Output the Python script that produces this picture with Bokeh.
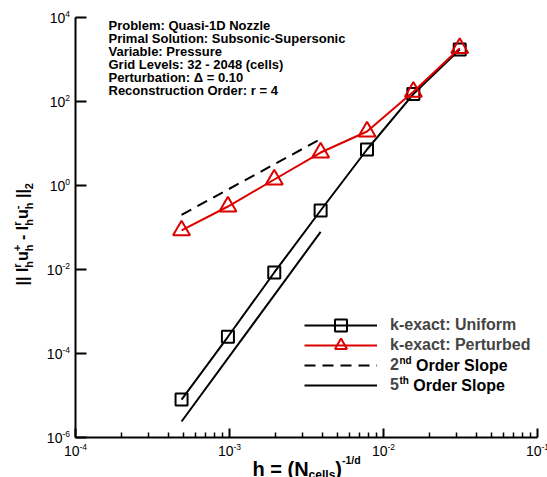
import math
from bokeh.plotting import figure
from bokeh.models import (Range1d, FixedTicker, CustomJSTickFormatter, Label,
                          Legend, LegendItem, LogAxis)
from bokeh.embed import file_html
from bokeh.resources import INLINE

# ---------------- data ----------------
h = [4.883e-4, 9.766e-4, 1.953e-3, 3.906e-3, 7.813e-3, 1.5625e-2, 3.125e-2]
err_uniform = [8.0e-6, 2.5e-4, 8.5e-3, 0.254, 7.2, 150.0, 1730.0]
err_perturbed = [0.085, 0.316, 1.39, 6.1, 19.3, 170.0, 1860.0]
slope_h = [4.883e-4, 3.906e-3]
slope2_err = [0.2, 12.8]
slope5_err = [2.4e-6, 0.0786]

x_major_ticks = [1e-4, 1e-3, 1e-2, 1e-1]
x_tick_exponents = ["-4", "-3", "-2", "-1"]
y_major_ticks = [1e-6, 1e-4, 1e-2, 1e0, 1e2, 1e4]
y_tick_exponents = ["-6", "-4", "-2", "0", "2", "4"]

info_lines = [
    "Problem: Quasi-1D Nozzle",
    "Primal Solution: Subsonic-Supersonic",
    "Variable: Pressure",
    "Grid Levels: 32 - 2048 (cells)",
    "Perturbation: \u0394 = 0.10",
    "Reconstruction Order: r = 4",
]
legend_labels = ["k-exact: Uniform", "k-exact: Perturbed", "2", "5"]
legend_sups = ["nd", "th"]
legend_tail = "Order Slope"

RED = "#dd0000"
FONT = "Liberation Sans"
MID = 0.35  # distance baseline -> visual middle, in em

# Arial/Helvetica-compatible advance widths (per 1000 em)
BOLD_W = {' ': 278, '|': 280, 'I': 278, 'u': 611, 'h': 611, 'r': 389, '+': 584,
          '-': 333, '2': 556, '5': 556, '=': 584, '(': 333, ')': 333, 'N': 722,
          'c': 556, 'e': 556, 'l': 278, 's': 556, '1': 556, '/': 278, 'd': 611,
          'n': 611, 't': 333}
REG_W = {'-': 333}
for ch in "0123456789":
    REG_W[ch] = 556


def tw(s, size, table):
    return sum(table[c] for c in s) * size / 1000.0


# layout (canvas pixels): axes box of the reference
W, H = 547, 477
FL, FR, FT, FB = 75, 10, 17, 40
XDEC = (W - FL - FR) / 3.0     # px per decade on x (1e-4 .. 1e-1)
YDEC = (H - FT - FB) / 10.0    # px per decade on y (1e-6 .. 1e4)
x_lo = 10 ** (-4 - FL / XDEC)
x_hi = 10 ** (-1 + FR / XDEC)
y_lo = 10 ** (-6 - FB / YDEC)
y_hi = 10 ** (4 + FT / YDEC)


def cx(x):
    return x


def cy(y):
    return H - y


p = figure(width=W, height=H, x_axis_type="log", y_axis_type="log",
           x_axis_location=None, y_axis_location=None,
           x_range=Range1d(x_lo, x_hi), y_range=Range1d(y_lo, y_hi),
           min_border=0, min_border_left=0, min_border_right=0,
           min_border_top=0, min_border_bottom=0,
           output_backend="svg", toolbar_location=None)
p.outline_line_color = None
p.grid.visible = False
p.background_fill_color = "white"
p.border_fill_color = "white"

x_minor = [m * 10.0 ** k for k in (-4, -3, -2) for m in range(2, 10)]
xaxis = LogAxis(ticker=FixedTicker(ticks=x_major_ticks, minor_ticks=x_minor),
                fixed_location=1e-6, bounds=(1e-4, 1e-1))
yaxis = LogAxis(ticker=FixedTicker(ticks=y_major_ticks, minor_ticks=[]),
                fixed_location=1e-4, bounds=(1e-6, 1e4))
for ax in (xaxis, yaxis):
    ax.formatter = CustomJSTickFormatter(code="return '';")
    ax.major_label_text_font_size = "0px"
    ax.axis_line_width = 2
    ax.axis_line_color = "black"
    ax.major_tick_line_width = 2
    ax.minor_tick_line_width = 1.5
    ax.major_tick_out = 0
    ax.minor_tick_out = 0
    ax.minor_tick_in = 5
    ax.major_label_standoff = 0
xaxis.major_tick_in = 9
yaxis.major_tick_in = 11
p.add_layout(xaxis, "below")
p.add_layout(yaxis, "left")

# ---------------- data glyphs ----------------
r_u_line = p.line(h, err_uniform, line_color="black", line_width=2)
r_u_pts = p.scatter(h, err_uniform, marker="square", size=12, line_color="black",
                    line_width=2, fill_color=None)
r_s2 = p.line(slope_h, slope2_err, line_color="black", line_width=2,
              line_dash="11 7")
r_s5 = p.line(slope_h, slope5_err, line_color="black", line_width=2)
r_p_line = p.line(h, err_perturbed, line_color=RED, line_width=2)
r_p_pts = p.scatter(h, err_perturbed, marker="triangle", size=17, line_color=RED,
                    line_width=2, fill_color=None)


def lab(text, x, y, size, style="bold", align="left", angle=0.0,
        xu="screen", yu="screen", xo=0, yo=0):
    p.add_layout(Label(x=x, y=y, x_units=xu, y_units=yu, text=text,
                       text_font=FONT, text_font_size=f"{size}px",
                       text_font_style=style, text_align=align,
                       text_baseline="middle", angle=angle, x_offset=xo,
                       y_offset=yo, text_color="black"))


def labb(text, x_canvas, base_canvas, size, **kw):
    """Horizontal label placed by its baseline (canvas px)."""
    lab(text, cx(x_canvas), cy(base_canvas - MID * size), size, **kw)


# ---------------- tick labels ----------------
TICK = 14
SUP = 8.5
for t, e in zip(x_major_ticks, x_tick_exponents):
    lab("10", t, cy(455 - MID * TICK), TICK, style="normal", align="right",
        xu="data", xo=4)
    lab(e, t, cy(449 - MID * SUP), SUP, style="normal", align="left",
        xu="data", xo=4)
for t, e in zip(y_major_ticks, y_tick_exponents):
    sw = tw(e, SUP, REG_W)
    lab(e, cx(69.5), t, SUP, style="normal", align="right", yu="data",
        yo=1 + MID * SUP)
    lab("10", cx(69.5) - sw, t, TICK, style="normal", align="right",
        yu="data", yo=-5 + MID * TICK)

# ---------------- info text ----------------
for i, line in enumerate(info_lines):
    labb(line, 108, 30 + 13 * i, 13)

# ---------------- x-axis title ----------------
MX, SX, PX = 20, 12, 10.5
xpos = 252
labb("h = (N", xpos, 475, MX)
xpos += tw("h = (N", MX, BOLD_W)
labb("cells", xpos, 479, SX)
xpos += tw("cells", SX, BOLD_W)
labb(")", xpos, 475, MX)
xpos += tw(")", MX, BOLD_W)
labb("-1/d", xpos, 463.5, PX)

# ---------------- y-axis title (rotated) ----------------
MY, SY = 16, 11
base_x = 27.5          # canvas x of the rotated text baseline
ypos = 285.0           # canvas y where text starts (bottom)
A = math.pi / 2


def ypiece(text, size, shift):
    # shift > 0 : raised (towards screen left)
    lab(text, cx(base_x - shift - MID * size), cy(ypos), size, angle=A)


def ystack(sup, sub):
    global ypos
    ypiece(sup, SY, 7)
    ypiece(sub, SY, -5)
    ypos -= max(tw(sup, SY, BOLD_W), tw(sub, SY, BOLD_W))


def ymain(text, lead_space=False):
    global ypos
    if lead_space:
        ypos -= tw(" ", MY, BOLD_W)
    ypiece(text, MY, 0)
    ypos -= tw(text, MY, BOLD_W)


ymain("|| I")
ystack("r", "h")
ymain("u")
ystack("+", "h")
ymain("- I", lead_space=True)
ystack("r", "h")
ymain("u")
ystack("-", "h")
ymain("||", lead_space=True)
ypiece("2", SY, -5)

# ---------------- legend (one box per row, rows 20 px apart) ----------------
row_renderers = [[r_u_line, r_u_pts], [r_p_line, r_p_pts], [r_s2], [r_s5]]
row_centers = [325, 345, 365, 385]
LEG_X = 304
GW, GH, STAND = 73, 30, 13
for lbl, rends, rc in zip(legend_labels, row_renderers, row_centers):
    lg = Legend(items=[LegendItem(label=lbl, renderers=rends)],
                location=(cx(LEG_X), cy(rc + GH / 2)), orientation="vertical",
                border_line_color=None, background_fill_alpha=0.0,
                padding=0, margin=0, spacing=0, glyph_width=GW,
                glyph_height=GH, label_height=GH, label_standoff=STAND,
                label_text_font=FONT, label_text_font_size="16px",
                label_text_font_style="bold", label_text_baseline="middle")
    p.add_layout(lg)

text_x = LEG_X + GW + STAND
for lbl, sup, rc in zip(legend_labels[2:], legend_sups, row_centers[2:]):
    xs = text_x + tw(lbl, 16, BOLD_W)
    labb(sup, xs, rc + MID * 16 - 7, 10)
    xs += tw(sup, 10, BOLD_W) + tw(" ", 16, BOLD_W)
    lab(legend_tail, cx(xs), cy(rc), 16)

open("out.html", "w").write(file_html(p, INLINE))
